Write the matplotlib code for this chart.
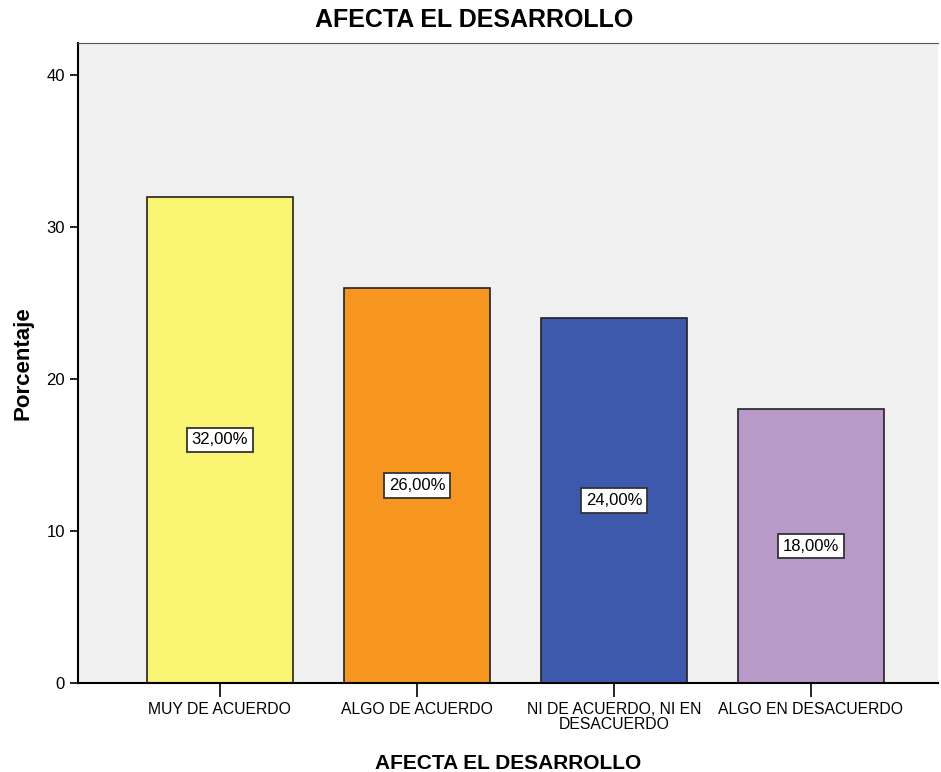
import matplotlib.pyplot as plt

plt.rcParams['font.family'] = ['Liberation Sans', 'DejaVu Sans']

categorias = ['MUY DE ACUERDO', 'ALGO DE ACUERDO', 'NI DE ACUERDO, NI EN\nDESACUERDO', 'ALGO EN DESACUERDO']
porcentajes = [32.0, 26.0, 24.0, 18.0]
etiquetas = ['32,00%', '26,00%', '24,00%', '18,00%']
colores = ['#F9F572', '#F7961E', '#3D59AB', '#B89AC8']

fig = plt.figure(figsize=(9.41, 7.72), dpi=100)
ax = fig.add_axes([0.0829, 0.1153, 0.9139, 0.829])
ax.set_facecolor('#F0F0F0')

x = list(range(len(categorias)))
ax.bar(x, porcentajes, width=0.74, color=colores, edgecolor='#222222', linewidth=1.2, zorder=2)

for xi, v, t in zip(x, porcentajes, etiquetas):
    ax.text(xi, v / 2, t, ha='center', va='center', fontsize=12, zorder=3,
            bbox=dict(boxstyle='square,pad=0.28', facecolor='white', edgecolor='#333333', linewidth=1.3))

ax.set_xlim(-0.72, 3.645)
ax.set_ylim(0, 42.1)
ax.set_yticks([0, 10, 20, 30, 40])
ax.set_xticks(x)
ax.set_xticklabels(categorias, fontsize=11.3, linespacing=1.0)
ax.tick_params(axis='y', labelsize=12, length=6, width=1.2)
ax.tick_params(axis='x', length=10, width=1.2)

ax.spines['left'].set_linewidth(1.5)
ax.spines['bottom'].set_linewidth(1.5)
ax.spines['top'].set_color('#555555')
ax.spines['right'].set_visible(False)

ax.set_ylabel('Porcentaje', fontsize=16, fontweight='bold')
ax.yaxis.set_label_coords(-0.052, 0.5)
ax.set_xlabel('AFECTA EL DESARROLLO', fontsize=15, fontweight='bold', labelpad=16)
fig.text(0.504, 0.974, 'AFECTA EL DESARROLLO', ha='center', va='center', fontsize=18, fontweight='bold')

fig.savefig('out.png', dpi=100)
